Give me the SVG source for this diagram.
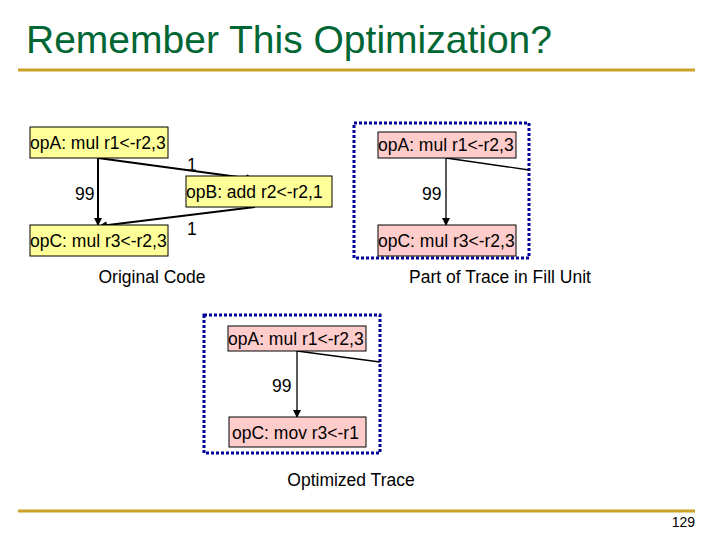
<svg xmlns="http://www.w3.org/2000/svg" width="720" height="540" viewBox="0 0 720 540">
<defs>
<style>
text{font-family:"Liberation Sans",Arial,sans-serif;fill:#000}
.t{font-size:17.5px}
.y{fill:#ffff99;stroke:#000;stroke-width:1}
.p{fill:#ffcccc;stroke:#000;stroke-width:1}
.c{stroke:#000;stroke-width:1.3;fill:none}
.b{stroke:#000;stroke-width:2;fill:none}
.d{fill:none;stroke:#000099;stroke-width:3;stroke-dasharray:3,2}
</style>
<marker id="a" markerWidth="8" markerHeight="8" refX="7" refY="4" orient="auto" markerUnits="userSpaceOnUse"><path d="M0,0L8,4L0,8z" fill="#000"/></marker>
</defs>
<rect width="720" height="540" fill="#fff"/>
<text x="26" y="53" style="font-size:39px;fill:#006633">Remember This Optimization?</text>
<line x1="18" y1="70" x2="695" y2="70" stroke="#c9a227" stroke-width="3"/>
<line x1="18" y1="511" x2="695" y2="511" stroke="#c9a227" stroke-width="3"/>
<text x="695" y="527" text-anchor="end" style="font-size:14px">129</text>
<rect class="d" x="354" y="123" width="175" height="135"/>
<rect class="d" x="204" y="315" width="176" height="138"/>
<g id="connectors">
<line class="b" x1="98" y1="158" x2="98" y2="225" marker-end="url(#a)"/>
<line class="b" x1="98" y1="158" x2="253" y2="179" marker-end="url(#a)"/>
<line class="b" x1="255" y1="207" x2="100" y2="226" marker-end="url(#a)"/>
<line class="c" x1="446" y1="158" x2="446" y2="225" marker-end="url(#a)"/>
<line class="c" x1="446" y1="158" x2="529" y2="170"/>
<line class="c" x1="297" y1="351" x2="297" y2="417" marker-end="url(#a)"/>
<line class="c" x1="297" y1="351" x2="380" y2="362"/>
<text x="187" y="171" class="t">1</text>
<text x="187" y="235" class="t">1</text>
<text x="75" y="200" class="t">99</text>
<text x="422" y="200" class="t">99</text>
<text x="272" y="392" class="t">99</text>
</g>
<g id="opA1"><rect class="y" x="30" y="127" width="138" height="31"/><text x="30" y="149" class="t">opA: mul r1&lt;-r2,3</text></g>
<g id="opB1"><rect class="y" x="186" y="176" width="146" height="31"/><text x="186" y="198" class="t">opB: add r2&lt;-r2,1</text></g>
<g id="opC1"><rect class="y" x="30" y="225" width="138" height="31"/><text x="30" y="247" class="t">opC: mul r3&lt;-r2,3</text></g>
<g id="opA2"><rect class="p" x="378" y="132" width="138" height="26"/><text x="378" y="151" class="t">opA: mul r1&lt;-r2,3</text></g>
<g id="opC2"><rect class="p" x="378" y="225" width="138" height="31"/><text x="378" y="247" class="t">opC: mul r3&lt;-r2,3</text></g>
<g id="opA3"><rect class="p" x="228" y="326" width="138" height="25"/><text x="228" y="345" class="t">opA: mul r1&lt;-r2,3</text></g>
<g id="opC3"><rect class="p" x="229" y="417" width="137" height="30"/><text x="232" y="439" class="t">opC: mov r3&lt;-r1</text></g>
<text x="152" y="283" class="t" text-anchor="middle">Original Code</text>
<text x="500" y="283" class="t" text-anchor="middle">Part of Trace in Fill Unit</text>
<text x="351" y="486" class="t" text-anchor="middle">Optimized Trace</text>
</svg>
